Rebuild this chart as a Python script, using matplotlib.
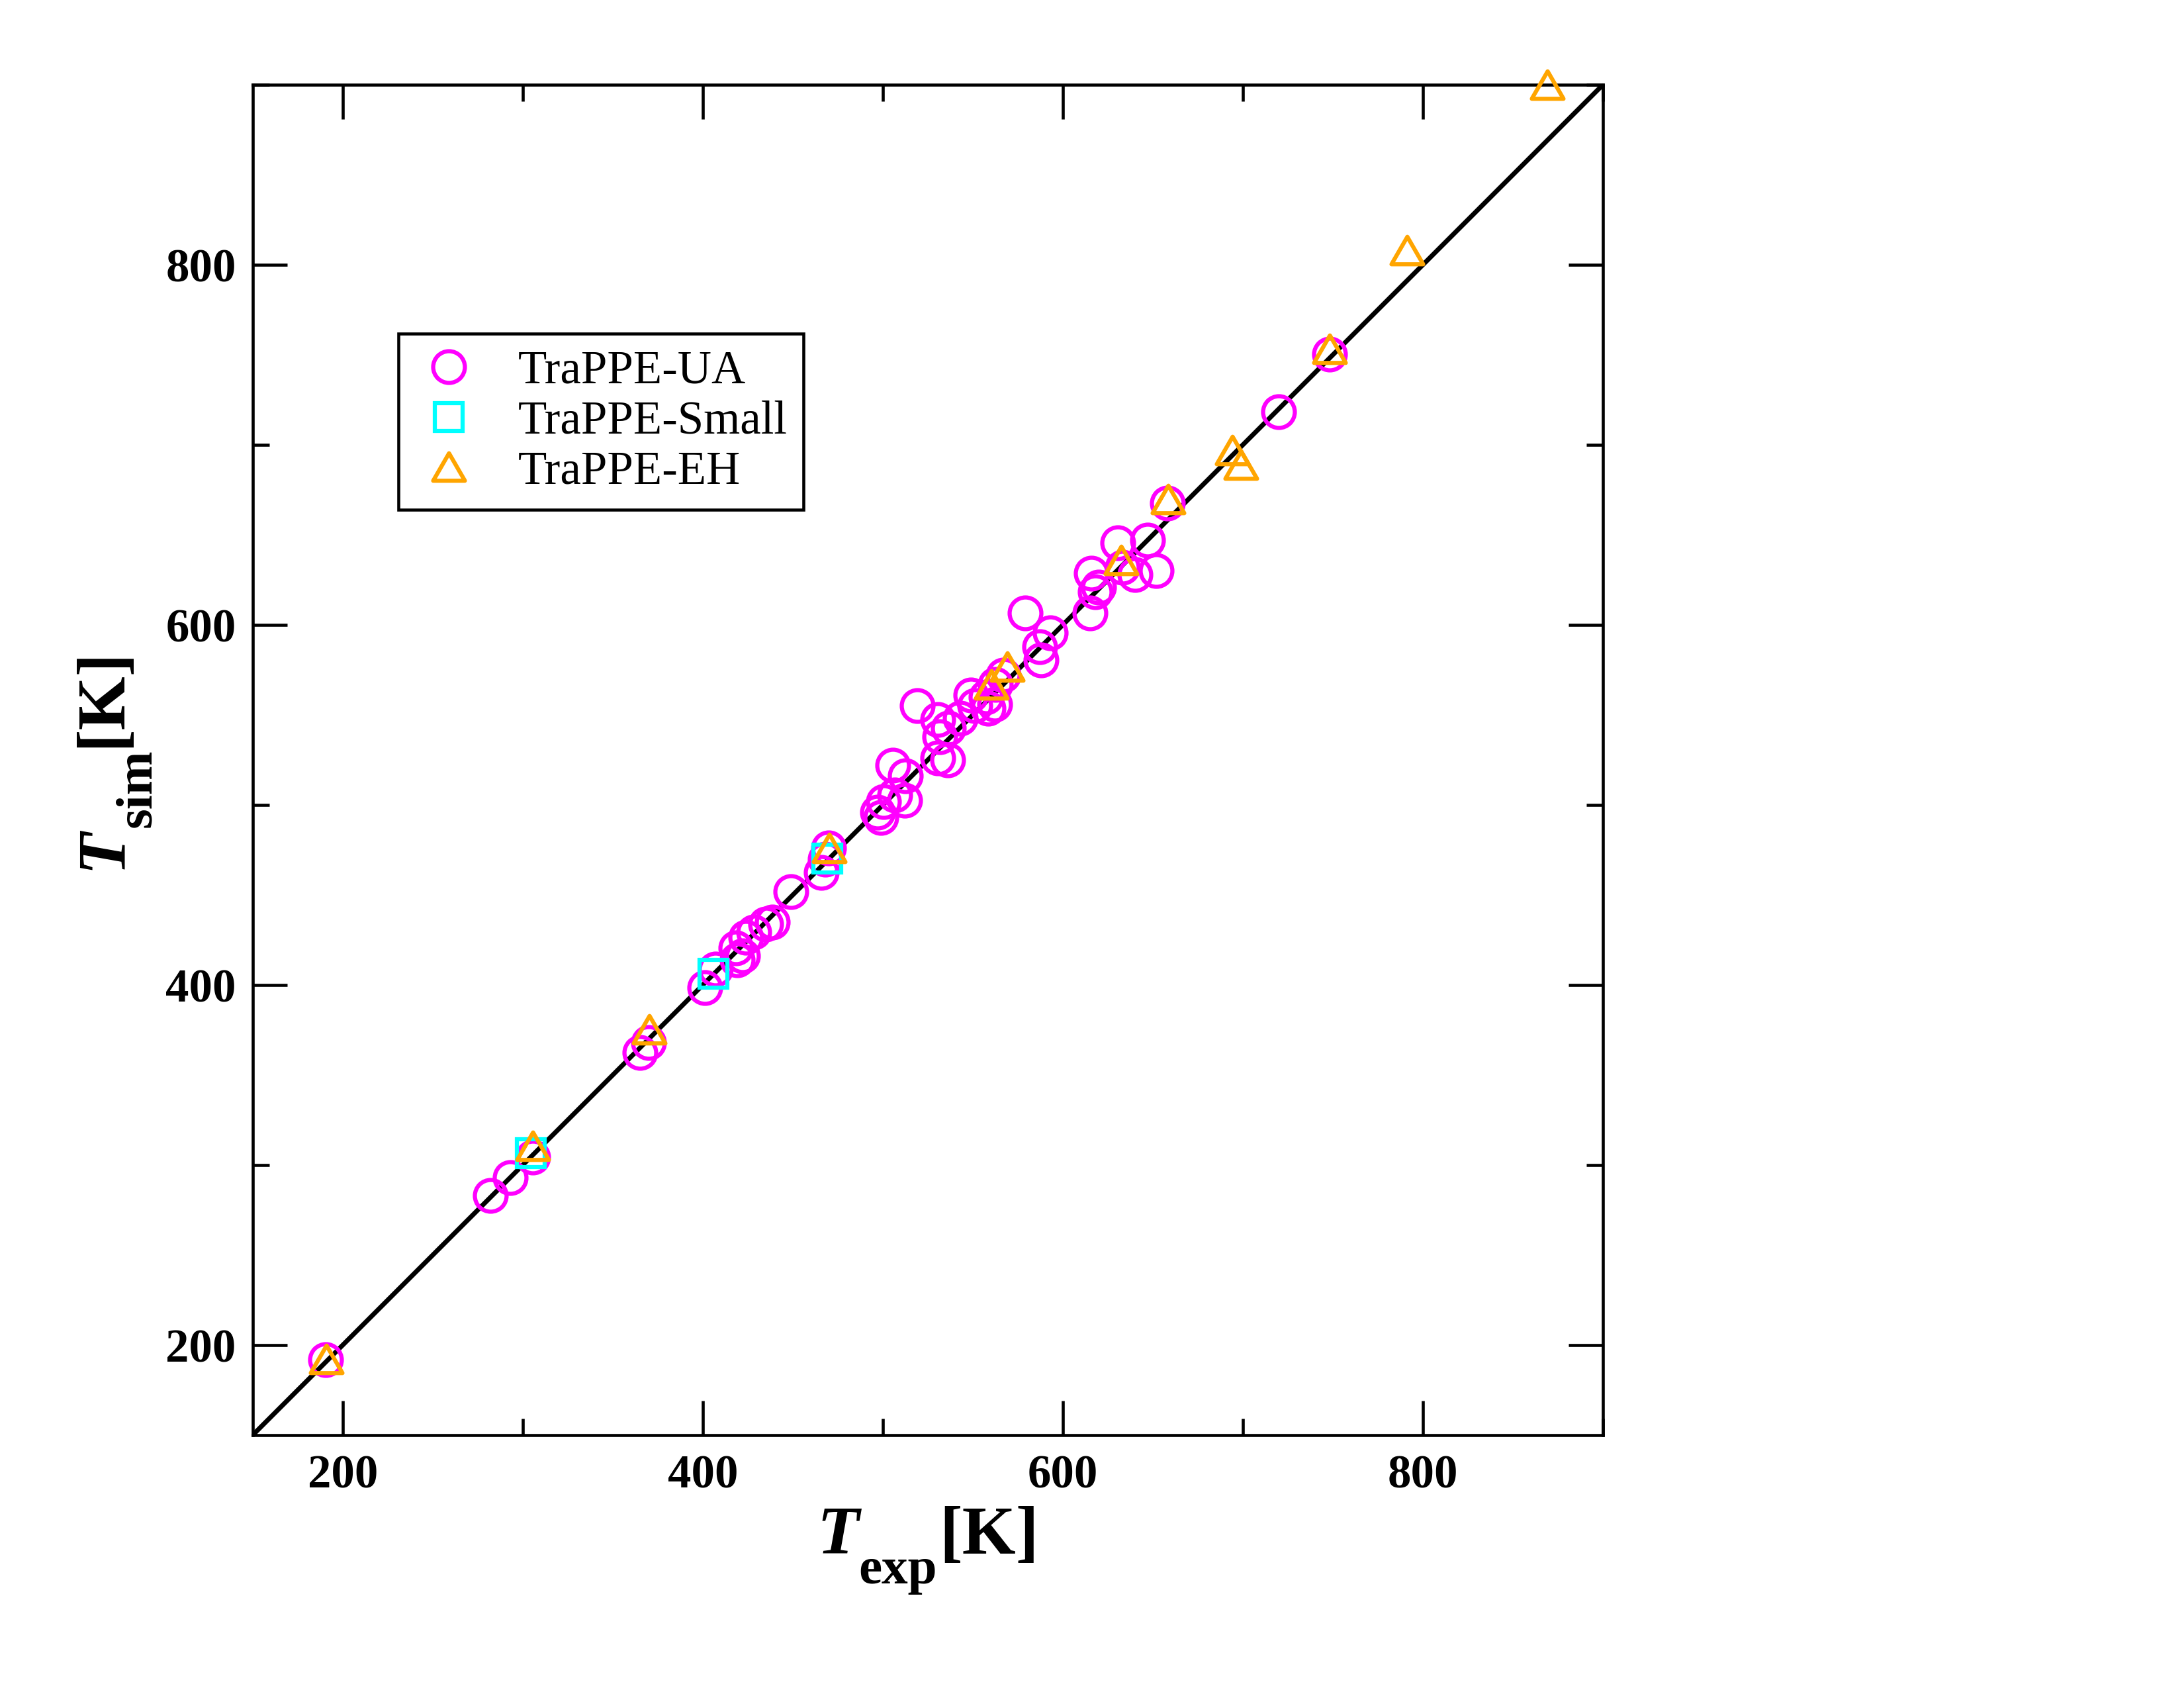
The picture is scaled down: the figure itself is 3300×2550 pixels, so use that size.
import matplotlib
matplotlib.use("Agg")
import matplotlib.pyplot as plt
from matplotlib.path import Path
from matplotlib.ticker import MultipleLocator
from matplotlib.transforms import IdentityTransform

# T_exp vs T_sim (K)
ua_exp = [190.5, 282, 293, 305.5, 365, 370, 401, 407, 419, 418.5, 422, 424, 428.5,
          435, 438.5, 449, 466, 468, 470, 497, 499, 500.5, 506.5, 512, 505.5, 512.5,
          519, 530.5, 530.5, 536, 536.5, 531.5, 543, 549, 551, 558.5, 562, 557.5,
          562.5, 567, 579, 593, 587, 588, 615, 618, 620, 616, 630.5, 640, 647, 652,
          633, 658, 720, 748]
ua_sim = [192, 283, 293, 304.5, 362.5, 368, 398.5, 409, 414, 420.5, 416, 426.5, 429.5,
          434, 435, 452, 462.5, 470, 476, 496, 493, 502, 505.5, 502.5, 522, 516,
          555, 547.5, 526, 525, 542.5, 538, 548, 561, 555, 553.5, 556, 560,
          567, 572, 606.5, 595.5, 588, 580.5, 606.5, 618.5, 621, 628.5, 645.5, 628, 647, 630,
          632, 667.5, 718.5, 750.5]

small_exp = [304.5, 405.8, 469.2]
small_sim = [306.5, 406.4, 470.4]

eh_exp = [190.7, 305.5, 370.1, 470.1, 560.2, 569.3, 632.2, 658.3, 694.2, 699.1, 748.3, 791.2, 869.3]
eh_sim = [192.4, 310.8, 375.2, 476.1, 567.0, 577.0, 636.0, 670.0, 697.0, 689.1, 753.3, 808.0, 900.1]

labels = ["TraPPE-UA", "TraPPE-Small", "TraPPE-EH"]
colors = ["#FF00FF", "#00FFFF", "#FFA500"]

W, H, DPI = 3300, 2550, 300
SERIF = "Liberation Serif"

fig = plt.figure(figsize=(W / DPI, H / DPI), dpi=DPI)
ax = fig.add_axes([381.8 / W, 1 - 2168 / H, (2422 - 381.8) / W, (2168 - 128) / H])
ax.set_xlim(150, 900)
ax.set_ylim(150, 900)

# equilateral triangle like xmgrace's
tri = Path([(-1, -0.866), (1, -0.866), (0, 0.866), (-1, -0.866)],
           [Path.MOVETO, Path.LINETO, Path.LINETO, Path.CLOSEPOLY])

ax.plot([150, 900], [150, 900], color="black", lw=1.7, zorder=1)
kw = dict(ls="none", mfc="none", mew=1.5, clip_on=False)
ax.plot(ua_exp, ua_sim, marker="o", ms=11.5, mec=colors[0], label=labels[0], zorder=2, **kw)
ax.plot(small_exp, small_sim, marker="s", ms=10.3, mec=colors[1], label=labels[1], zorder=3, **kw)
ax.plot(eh_exp, eh_sim, marker=tri, ms=11.5, mec=colors[2], label=labels[2], zorder=4, **kw)

ax.xaxis.set_major_locator(MultipleLocator(200))
ax.yaxis.set_major_locator(MultipleLocator(200))
ax.xaxis.set_minor_locator(MultipleLocator(100))
ax.yaxis.set_minor_locator(MultipleLocator(100))
ax.tick_params(which="both", direction="in", top=True, right=True, width=1.1, color="black")
ax.tick_params(which="major", length=12.5)
ax.tick_params(which="minor", length=6)
ax.tick_params(axis="x", pad=7)
ax.tick_params(axis="y", pad=6)
for lab in ax.get_xticklabels() + ax.get_yticklabels():
    lab.set_family(SERIF)
    lab.set_fontweight("bold")
    lab.set_fontsize(17)
for sp in ax.spines.values():
    sp.set_linewidth(1.1)

leg = ax.legend(loc="upper left", bbox_to_anchor=(602 / W, 1 - 504 / H),
                bbox_transform=fig.transFigure, borderaxespad=0, fancybox=False,
                edgecolor="black", framealpha=1, prop={"family": SERIF, "size": 17},
                borderpad=0.35, handlelength=1.45, handletextpad=0.75,
                labelspacing=0.15, numpoints=1)
leg.get_frame().set_linewidth(1.1)


def pieced_label(pieces, cx, cy, vertical=False):
    """Lay out T, subscript and [K] by hand, xmgrace puts the subscript lower than mathtext."""
    r = fig.canvas.get_renderer()
    widths = []
    for txt, size, style, dy, gap in pieces:
        t = fig.text(0, 0, txt, fontsize=size, family=SERIF, weight="bold", style=style)
        widths.append(t.get_window_extent(r).width)
        t.remove()
    total = sum(widths) + sum(p[4] for p in pieces)
    pos = -total / 2
    for (txt, size, style, dy, gap), w in zip(pieces, widths):
        if vertical:
            x, y, rot = cx + dy, cy + pos, 90
        else:
            x, y, rot = cx + pos, cy - dy, 0
        fig.text(x, y, txt, transform=IdentityTransform(), rotation=rot,
                 rotation_mode="anchor", ha="left", va="baseline",
                 fontsize=size, family=SERIF, weight="bold", style=style)
        pos += w + gap


pieced_label([("T", 25, "italic", 0, 0), ("exp", 19, "normal", 45, 3), ("[K]", 25, "normal", 0, 0)],
             1402, H - 2347)
pieced_label([("T", 25, "italic", 0, 0), ("sim", 19, "normal", 45, 3), ("[K]", 25, "normal", 0, 0)],
             181.7, H - 1146, vertical=True)

fig.savefig("out.png", dpi=DPI, facecolor="white")
